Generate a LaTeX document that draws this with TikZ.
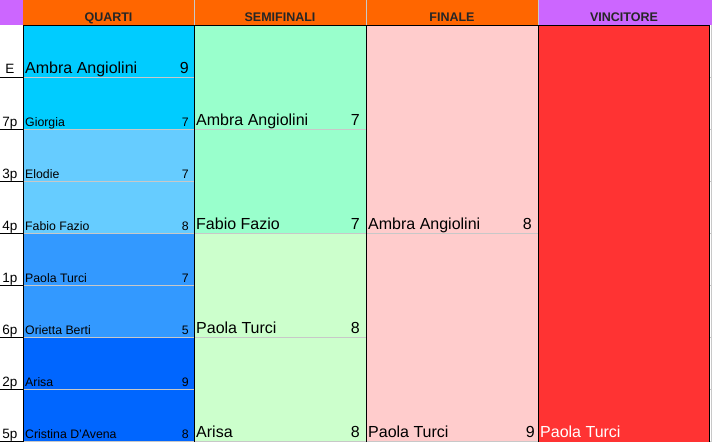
\documentclass[tikz,border=0pt]{standalone}
\usepackage{fontspec}
\setmainfont{Liberation Sans}
\definecolor{hdrorange}{HTML}{FF6600}
\definecolor{hdrpurple}{HTML}{CC66FF}
\definecolor{qa}{HTML}{00CCFF}
\definecolor{qb}{HTML}{66CCFF}
\definecolor{qc}{HTML}{3399FF}
\definecolor{qd}{HTML}{0066FF}
\definecolor{sa}{HTML}{99FFCC}
\definecolor{sb}{HTML}{CCFFCC}
\definecolor{fa}{HTML}{FFCCCC}
\definecolor{win}{HTML}{FF3333}
\definecolor{gridgrey}{HTML}{C8C8C8}
\tikzset{
  hdr/.style={font=\fontsize{12.5}{14}\selectfont\bfseries, text=black!85, anchor=base, inner sep=0pt},
  big/.style={font=\fontsize{16}{18}\selectfont, text=black, inner sep=0pt},
  small/.style={font=\fontsize{12.3}{14}\selectfont, text=black, inner sep=0pt},
  lab/.style={font=\fontsize{13.5}{15}\selectfont, text=black, anchor=base, inner sep=0pt},
  gline/.style={draw=gridgrey, line width=0.8pt},
  bline/.style={draw=black, line width=1pt},
}
\begin{document}
\begin{tikzpicture}[x=1pt,y=-1pt]
\useasboundingbox (0,0) rectangle (712,442);
\fill[white] (0,0) rectangle (712,442);
% header
\fill[hdrpurple] (0,0) rectangle (23,25);
\fill[hdrorange] (23,0) rectangle (538,25);
\fill[hdrpurple] (538,0) rectangle (712,25);
\draw[gline] (194,0) -- (194,25);
\draw[gline] (366,0) -- (366,25);
\draw[gline] (538,0) -- (538,25);
\node[hdr] (hq) at (108.5,21) {QUARTI};
\node[hdr] (hs) at (280,21) {SEMIFINALI};
\node[hdr] (hf) at (452,21) {FINALE};
\node[hdr] (hv) at (624,21) {VINCITORE};
% quarti fills
\fill[qa] (23,25) rectangle (194,129);
\fill[qb] (23,129) rectangle (194,233);
\fill[qc] (23,233) rectangle (194,337);
\fill[qd] (23,337) rectangle (194,442);
% semifinali
\fill[sa] (194,25) rectangle (366,233);
\fill[sb] (194,233) rectangle (366,442);
% finale
\fill[fa] (366,25) rectangle (538,442);
% vincitore
\fill[win] (538,25) rectangle (709,442);
% grey row lines
\foreach \y in {77,129,181,233,285,337,389,441} {
  \draw[gline] (23,\y) -- (194,\y);
}
\foreach \y in {129,233,337,441} {
  \draw[gline] (194,\y) -- (366,\y);
}
\foreach \y in {233,441} {
  \draw[gline] (366,\y) -- (538,\y);
}
\foreach \y in {77,129,181,233,285,337,389,441} {
  \draw[gline] (709,\y) -- (712,\y);
}
\draw[gline] (711,25) -- (711,442);
% black lines
\foreach \y in {77,129,181,233,285,337,389,441} {
  \draw[bline] (0,\y) -- (23,\y);
}
\draw[bline] (23,25) -- (709,25);
\draw[bline] (23,25) -- (23,442);
\draw[bline] (194,25) -- (194,442);
\draw[bline] (366,25) -- (366,442);
\draw[bline] (538,25) -- (538,442);
\draw[bline] (709,25) -- (709,442);
% left labels
\node[lab] (l1) at (10,73) {E};
\node[lab] (l2) at (10,126) {7p};
\node[lab] (l3) at (10,178) {3p};
\node[lab] (l4) at (10,230) {4p};
\node[lab] (l5) at (10,282) {1p};
\node[lab] (l6) at (10,334) {6p};
\node[lab] (l7) at (10,386) {2p};
\node[lab] (l8) at (10,438) {5p};
% quarti names
\node[big,anchor=base west] (q1) at (25,73) {Ambra Angiolini};
\node[big,anchor=base east] (q1s) at (189,73) {9};
\node[small,anchor=base west] (q2) at (25,126) {Giorgia};
\node[small,anchor=base east] (q2s) at (189,126) {7};
\node[small,anchor=base west] (q3) at (25,178) {Elodie};
\node[small,anchor=base east] (q3s) at (189,178) {7};
\node[small,anchor=base west] (q4) at (25,230) {Fabio Fazio};
\node[small,anchor=base east] (q4s) at (189,230) {8};
\node[small,anchor=base west] (q5) at (25,282) {Paola Turci};
\node[small,anchor=base east] (q5s) at (189,282) {7};
\node[small,anchor=base west] (q6) at (25,334) {Orietta Berti};
\node[small,anchor=base east] (q6s) at (189,334) {5};
\node[small,anchor=base west] (q7) at (25,386) {Arisa};
\node[small,anchor=base east] (q7s) at (189,386) {9};
\node[small,anchor=base west] (q8) at (25,438) {Cristina D'Avena};
\node[small,anchor=base east] (q8s) at (189,438) {8};
% semifinali
\node[big,anchor=base west] (s1) at (196,125) {Ambra Angiolini};
\node[big,anchor=base east] (s1s) at (360,125) {7};
\node[big,anchor=base west] (s2) at (196,229) {Fabio Fazio};
\node[big,anchor=base east] (s2s) at (360,229) {7};
\node[big,anchor=base west] (s3) at (196,333) {Paola Turci};
\node[big,anchor=base east] (s3s) at (360,333) {8};
\node[big,anchor=base west] (s4) at (196,437) {Arisa};
\node[big,anchor=base east] (s4s) at (360,437) {8};
% finale
\node[big,anchor=base west] (f1) at (368,229) {Ambra Angiolini};
\node[big,anchor=base east] (f1s) at (532,229) {8};
\node[big,anchor=base west] (f2) at (368,437) {Paola Turci};
\node[big,anchor=base east] (f2s) at (535,437) {9};
% vincitore
\node[big,anchor=base west,text=white] (w) at (540,437) {Paola Turci};
\end{tikzpicture}
\end{document}
